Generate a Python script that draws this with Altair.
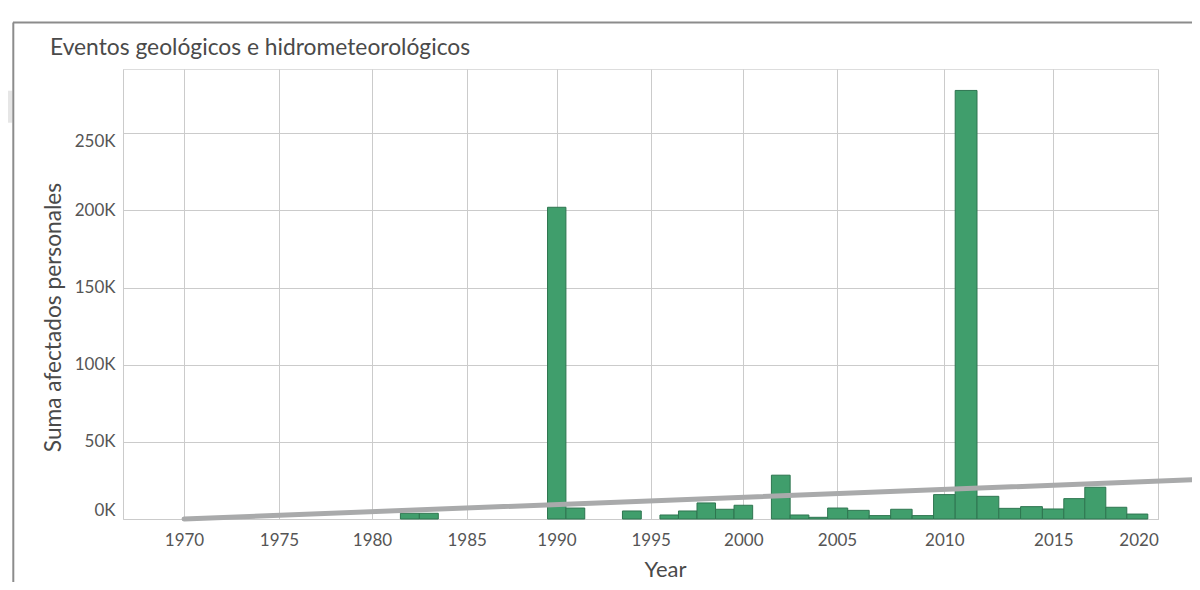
import altair as alt
import pandas as pd

# ---- data ----
years = [1982, 1983, 1990, 1991, 1994, 1996, 1997, 1998, 1999, 2000,
         2002, 2003, 2004, 2005, 2006, 2007, 2008, 2009, 2010, 2011,
         2012, 2013, 2014, 2015, 2016, 2017, 2018, 2019]
afectados = [3700, 3700, 202000, 7100, 5200, 2600, 5200, 10400, 6300, 8900,
             28400, 2600, 1100, 7100, 5600, 2200, 6300, 2200, 15800, 277700,
             14700, 6900, 8000, 6500, 13200, 20600, 7600, 3200]

trend_years = [1970, 2021.8]
trend_values = [0, 25500]

x_ticks = [1970, 1975, 1980, 1985, 1990, 1995, 2000, 2005, 2010, 2015, 2020]
y_ticks = [0, 50000, 100000, 150000, 200000, 250000]

bars_df = pd.DataFrame({"year": years, "afectados": afectados})
trend_df = pd.DataFrame({"year": trend_years, "afectados": trend_values})
one = pd.DataFrame({"k": [0]})

FONT = "Lato"
TXT = "#4a4a4a"
GRID = "#cbcbcb"

x_scale = alt.Scale(
    domain=[1966.8] + x_ticks,
    range=[0, 61, 156, 249, 343.7, 433.5, 527.7, 620.3, 714, 821.3, 930.3, 1035.3],
    nice=False, zero=False,
)
y_scale = alt.Scale(domain=[0, 291600], nice=False, zero=True)

x_axis = alt.Axis(
    values=x_ticks, format="d", title="Year", grid=True, gridColor=GRID,
    domain=False, ticks=False, labelPadding=13, labelFontSize=17,
    labelFont=FONT, labelColor="#555555", titleFont=FONT, titleFontSize=22,
    titleFontWeight="normal", titleColor=TXT, titleX=542, titleY=57,
    titleBaseline="alphabetic", titleAlign="center",
)
y_axis = alt.Axis(
    values=y_ticks, title="Suma afectados personales", grid=True,
    gridColor=GRID, domain=True, domainColor=GRID, ticks=False,
    labelPadding=8, labelFontSize=17, labelFont=FONT, labelColor="#555555",
    labelExpr="(datum.value / 1000) + 'K'",
    labelBaseline={"condition": [{"test": "datum.value === 0", "value": "bottom"},
                                 {"test": "datum.value === 250000", "value": "top"}],
                   "value": "middle"},
    titleFont=FONT, titleFontSize=22.7, titleFontWeight="normal",
    titleColor=TXT, titleAngle=-90, titleX=-63, titleY=248,
    titleBaseline="alphabetic", titleAlign="center",
)

bars = alt.Chart(bars_df).transform_calculate(
    x0="datum.year - 0.5", x1="datum.year + 0.5"
).mark_bar(fill="#409e6c", stroke="#2e7550", strokeWidth=1).encode(
    x=alt.X("x0:Q", scale=x_scale, axis=x_axis),
    x2="x1:Q",
    y=alt.Y("afectados:Q", scale=y_scale, axis=y_axis),
    y2=alt.datum(0),
)

trend = alt.Chart(trend_df).mark_line(
    color="#a9aaab", strokeWidth=5, strokeCap="round"
).encode(
    x=alt.X("year:Q", scale=x_scale),
    y=alt.Y("afectados:Q", scale=y_scale),
)

# card frame decorations
top_border = alt.Chart(one).mark_rule(color="#8c8c8c", strokeWidth=2).encode(
    x=alt.value(-110), x2=alt.value(1080), y=alt.value(-46.5)
)
left_border = alt.Chart(one).mark_rule(color="#8c8c8c", strokeWidth=2).encode(
    x=alt.value(-109.7), y=alt.value(-46.5), y2=alt.value(525)
)
side_tab = alt.Chart(one).mark_rect(color="#e6e6e6").encode(
    x=alt.value(-120), x2=alt.value(-110.7), y=alt.value(21.7), y2=alt.value(53.7)
)

chart = alt.layer(side_tab, top_border, left_border, bars, trend).properties(
    width=1035,
    height=450,
    title=alt.TitleParams(
        "Eventos geológicos e hidrometeorológicos", anchor="start",
        frame="group", dx=-73, dy=70, fontSize=22.8, font=FONT,
        fontWeight="normal", color=TXT, baseline="alphabetic", offset=14,
    ),
    autosize=alt.AutoSizeParams(type="none"),
    padding={"left": 115, "top": 61, "right": 34, "bottom": 63},
).configure_view(stroke=None).configure(background="white")

chart.save("out.html", embed_options={"renderer": "svg", "actions": False})
